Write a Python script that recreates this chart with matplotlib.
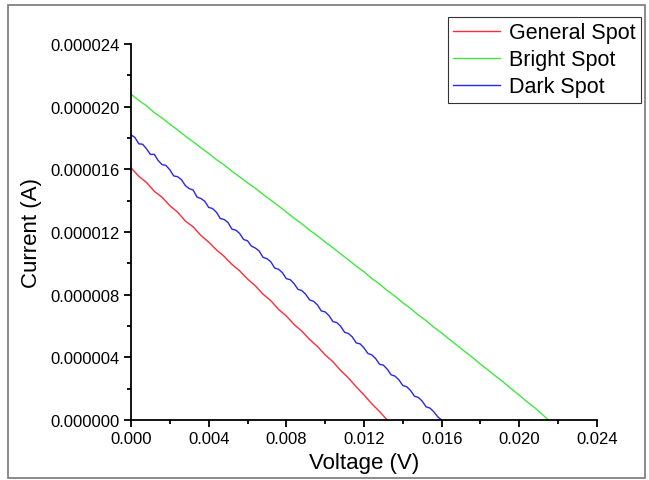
import matplotlib.pyplot as plt
from matplotlib.ticker import AutoMinorLocator, FormatStrFormatter, MultipleLocator
from matplotlib.patches import Rectangle
import numpy as np

plt.rcParams['font.family'] = ['Liberation Sans', 'DejaVu Sans']

# voltage sweeps (V) and measured currents (uA)
v_general = np.arange(34) * 0.0004
i_general = [16.10, 15.56, 15.16, 14.60, 14.22, 13.68, 13.27, 12.70, 12.33, 11.78,
             11.36, 10.86, 10.44, 9.93, 9.52, 9.00, 8.57, 8.03, 7.62, 7.06,
             6.64, 6.10, 5.67, 5.14, 4.70, 4.16, 3.72, 3.16, 2.68, 2.12,
             1.60, 1.04, 0.54, 0.00]

v_dark = np.arange(81) * 0.0002
i_dark = [18.20, 18.04, 17.63, 17.60, 17.31, 16.95, 16.96, 16.56, 16.30, 16.25,
          15.97, 15.58, 15.53, 15.34, 14.96, 14.77, 14.68, 14.23, 14.14, 13.96,
          13.57, 13.50, 13.26, 12.86, 12.80, 12.60, 12.18, 12.12, 11.90, 11.52,
          11.44, 11.10, 10.98, 10.79, 10.38, 10.30, 10.10, 9.70, 9.62, 9.40,
          9.02, 8.96, 8.70, 8.34, 8.26, 8.02, 7.66, 7.58, 7.35, 6.96,
          6.90, 6.66, 6.28, 6.22, 5.98, 5.60, 5.52, 5.30, 4.92, 4.86,
          4.60, 4.25, 4.16, 3.92, 3.56, 3.50, 3.24, 2.88, 2.80, 2.56,
          2.20, 2.12, 1.88, 1.52, 1.44, 1.20, 0.84, 0.76, 0.52, 0.20,
          0.00]

v_bright = np.append(np.arange(54) * 0.0004, 0.0215)
i_bright = [20.80, 20.40, 20.06, 19.62, 19.28, 18.88, 18.52, 18.12, 17.76, 17.38,
            17.02, 16.62, 16.28, 15.88, 15.52, 15.14, 14.80, 14.40, 14.04, 13.66,
            13.28, 12.88, 12.52, 12.12, 11.76, 11.36, 11.00, 10.60, 10.22, 9.82,
            9.46, 9.04, 8.68, 8.26, 7.90, 7.48, 7.12, 6.70, 6.34, 5.92,
            5.56, 5.14, 4.76, 4.36, 3.98, 3.56, 3.18, 2.78, 2.40, 1.98,
            1.58, 1.16, 0.78, 0.34, 0.00]

fig = plt.figure(figsize=(6.49, 4.81), dpi=100)
ax = fig.add_axes([131 / 649, 1 - 421 / 481, 466 / 649, 376 / 481])

ax.plot(v_general, np.array(i_general) * 1e-6, color='#ff2b3a', lw=1.0, label='General Spot')
ax.plot(v_bright, np.array(i_bright) * 1e-6, color='#3ee83e', lw=1.0, label='Bright Spot')
ax.plot(v_dark, np.array(i_dark) * 1e-6, color='#2626f0', lw=1.0, label='Dark Spot')

ax.set_xlim(0, 0.024)
ax.set_ylim(0, 0.000024)
ax.xaxis.set_major_locator(MultipleLocator(0.004))
ax.yaxis.set_major_locator(MultipleLocator(0.000004))
ax.xaxis.set_minor_locator(AutoMinorLocator(2))
ax.yaxis.set_minor_locator(AutoMinorLocator(2))
ax.xaxis.set_major_formatter(FormatStrFormatter('%.3f'))
ax.yaxis.set_major_formatter(FormatStrFormatter('%.6f'))

for side in ['top', 'right']:
    ax.spines[side].set_visible(False)
for side in ['left', 'bottom']:
    ax.spines[side].set_linewidth(1.3)
ax.tick_params(which='major', length=5, width=1.3, labelsize=12, direction='out', pad=3)
ax.tick_params(which='minor', length=3, width=1.3, direction='out')

ax.set_xlabel('Voltage (V)', fontsize=16, labelpad=4)
ax.set_ylabel('Current (A)', fontsize=16, labelpad=6)

leg = ax.legend(loc='upper right', bbox_to_anchor=(641 / 649, 1 - 18 / 481),
                bbox_transform=fig.transFigure, fontsize=15.5, frameon=True,
                fancybox=False, borderaxespad=0, handlelength=2.2,
                handletextpad=0.4, labelspacing=0.28, borderpad=0.25)
leg.get_frame().set_edgecolor('black')
leg.get_frame().set_linewidth(0.8)

# outer frame around the whole figure
fig.patches.append(Rectangle((8 / 649, 1 - 479 / 481), 637 / 649, 473 / 481,
                             transform=fig.transFigure, fill=False,
                             edgecolor='#777777', lw=1.2))

fig.savefig('out.png', dpi=100)
